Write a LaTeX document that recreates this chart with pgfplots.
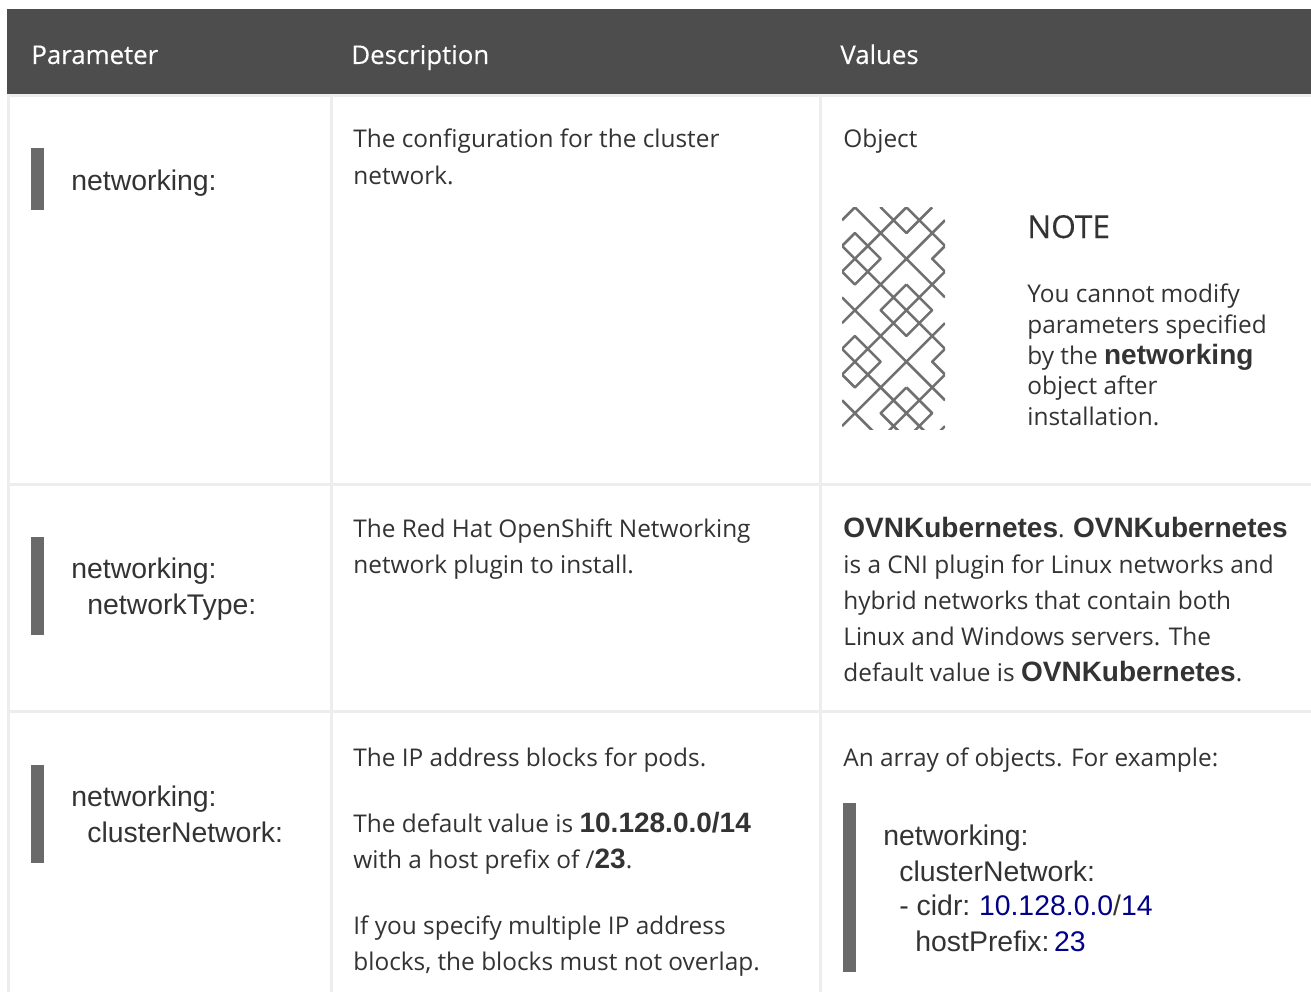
\documentclass[border=0pt]{standalone}
\usepackage{fontspec}
\usepackage{pgfplots}
\pgfplotsset{compat=1.18}
\setmainfont{Open Sans}
\newfontfamily\lib{Liberation Sans}
\newfontfamily\hd[FakeBold=0.25]{Open Sans}
\definecolor{hdr}{HTML}{4D4D4D}
\definecolor{rule}{HTML}{EDEDED}
\definecolor{barc}{HTML}{6A6A6A}
\definecolor{patc}{HTML}{707070}
\definecolor{txt}{HTML}{333333}
\definecolor{code}{HTML}{000088}
\newcommand\R[5]{\addplot[fill=#1,draw=none] coordinates {(#2,#3) (#4,#3) (#4,#5) (#2,#5)} --cycle;}
\newcommand\T[3]{\node[anchor=base west,inner sep=0pt,text=txt] at (axis cs:#1,#2) {\fontsize{12.2bp}{14bp}\selectfont #3};}
\newcommand\C[3]{\node[anchor=base west,inner sep=0pt,text=txt] at (axis cs:#1,#2) {\lib\fontsize{14.2bp}{16bp}\selectfont #3};}
\newcommand\BB[1]{{\lib\bfseries\fontsize{14bp}{16bp}\selectfont #1}}
\begin{document}
\begin{tikzpicture}[x=1bp,y=1bp]
\begin{axis}[at={(0bp,0bp)},anchor=south west,scale only axis,width=655.5bp,height=496bp,
  xmin=0,xmax=1311,ymin=0,ymax=992,y dir=reverse,hide axis,clip=false]
\R{white}{0}{0}{1311}{992}
\R{hdr}{7}{9}{1311}{94}
\R{rule}{7}{94}{1311}{97}
\R{rule}{7}{97}{10}{992}
\R{rule}{330}{97}{333}{992}
\R{rule}{819}{97}{822}{992}
\R{rule}{7}{483}{1311}{486}
\R{rule}{7}{710}{1311}{713}
\R{barc}{31}{148}{44}{210}
\R{barc}{31}{537}{44}{635}
\R{barc}{31}{765}{44}{863}
\R{barc}{843}{803}{856}{972}
\node[anchor=base west,inner sep=0pt,text=white] at (axis cs:31,64) {\hd\fontsize{12.9bp}{14bp}\selectfont Parameter};
\node[anchor=base west,inner sep=0pt,text=white] at (axis cs:351,64) {\hd\fontsize{12.9bp}{14bp}\selectfont Description};
\node[anchor=base west,inner sep=0pt,text=white] at (axis cs:840,64) {\hd\fontsize{12.9bp}{14bp}\selectfont Values};
\C{71}{190}{networking:}
\C{71}{578}{networking:}
\C{87}{614}{networkType:}
\C{71}{806}{networking:}
\C{87}{842}{clusterNetwork:}
\T{353}{148}{The configuration for the cluster}
\T{353}{184}{network.}
\T{353}{537}{The Red Hat OpenShift Networking}
\T{353}{573}{network plugin to install.}
\T{353}{766}{The IP address blocks for pods.}
\T{353}{832}{The default value is \BB{10.128.0.0/14}}
\T{353}{868}{with a host prefix of /\BB{23}.}
\T{353}{934}{If you specify multiple IP address}
\T{353}{970}{blocks, the blocks must not overlap.}
\T{843}{148}{Object}
\node[anchor=base west,inner sep=0pt,text=txt] at (axis cs:1027,238) {\hd\fontsize{15.8bp}{16bp}\selectfont NOTE};
\T{1027}{302}{You cannot modify}
\T{1027}{333}{parameters specified}
\T{1027}{364}{by the \BB{networking}}
\T{1027}{394}{object after}
\T{1027}{425}{installation.}
\T{843}{537}{\BB{OVNKubernetes}. \BB{OVNKubernetes}}
\T{843}{573}{is a CNI plugin for Linux networks and}
\T{843}{609}{hybrid networks that contain both}
\T{843}{645}{Linux and Windows servers. The}
\T{843}{681}{default value is \BB{OVNKubernetes}.}
\T{843}{766}{An array of objects. For example:}
\C{883}{845}{networking:}
\C{899}{881}{clusterNetwork:}
\C{899}{915}{- cidr:\hspace{4.3bp}\textcolor{code}{10.128.0.0}/\textcolor{code}{14}}
\C{915}{951}{hostPrefix:\hspace{2.3bp}\textcolor{code}{23}}
\end{axis}
\begin{axis}[at={(421bp,281.35bp)},anchor=south west,scale only axis,width=51.5bp,height=111bp,
  xmin=0,xmax=8,ymin=0,ymax=17.25,y dir=reverse,axis lines=none,clip=true,ticks=none,unbounded coords=jump]
\addplot[draw=patc,line width=1.3bp,no marks,line join=round] table[row sep=crcr] {
x y\\
0 -1\\ 8 7\\ nan nan\\ 0 7\\ 8 15\\ nan nan\\ 0 15\\ 3 18\\ nan nan\\
0 3\\ 8 11\\ nan nan\\ 0 11\\ 7 18\\ nan nan\\ 5 0\\ 8 3\\ nan nan\\
0 1\\ 1 0\\ nan nan\\ 0 9\\ 8 1\\ nan nan\\ 0 17\\ 8 9\\ nan nan\\ 8 17\\ 7 18\\ nan nan\\
0 5\\ 5 0\\ nan nan\\ 0 13\\ 8 5\\ nan nan\\ 3 18\\ 8 13\\ nan nan\\
5 -2\\ 3 0\\ 5 2\\ 7 0\\ nan nan\\
5 6\\ 3 8\\ 5 10\\ 7 8\\ 5 6\\ nan nan\\
5 14\\ 3 16\\ 5 18\\ 7 16\\ 5 14\\ nan nan\\
0 3\\ 1 2\\ 3 4\\ 1 6\\ 0 5\\ nan nan\\
8 3\\ 7 4\\ 8 5\\ nan nan\\
0 11\\ 1 10\\ 3 12\\ 1 14\\ 0 13\\ nan nan\\
8 11\\ 7 12\\ 8 13\\
};
\end{axis}
\end{tikzpicture}
\end{document}
